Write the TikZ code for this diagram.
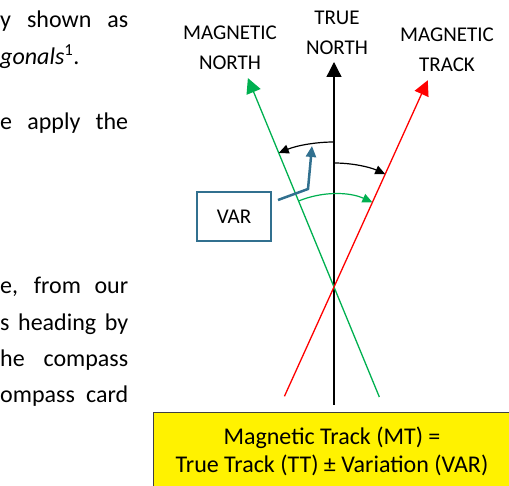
\documentclass[tikz,border=0pt]{standalone}
\usepackage{fontspec}
\setmainfont{Carlito}
\usepackage{xcolor}
\usetikzlibrary{calc,positioning,arrows.meta}
\definecolor{mngreen}{HTML}{00B050}
\definecolor{varblue}{HTML}{31708F}

\begin{document}
\begin{tikzpicture}[
        x=1pt, y=1pt,
        >={Triangle[length=15pt,width=15pt]}, % big arrowheads
        dirlabel/.style={align=center, anchor=north, inner sep=0pt, font=\fontsize{21}{30}\selectfont},
        bodytext/.style={inner sep=0pt, anchor=mid west, font=\fontsize{24}{29}\selectfont},
        swing/.style={-{Triangle[length=10pt,width=9pt]}, line width=1.2pt},
    ]
        \useasboundingbox (0,0) rectangle (509,-486);
        \clip (0,0) rectangle (509,-486);

        % Text of the page
        \node[bodytext] (lineA) at (0,-25) {\makebox[128pt][s]{y shown as}};
        \node[bodytext] (lineB) at (0,-62) {\textit{gonals}\textsuperscript{1}.};
        \node[bodytext] (lineC) at (0,-127) {\makebox[128pt][s]{e apply the}};
        \node[bodytext] (lineD) at (0,-291) {\makebox[128pt][s]{e, from our}};
        \node[bodytext] (lineE) at (0,-328) {\makebox[128pt][s]{s heading by}};
        \node[bodytext] (lineF) at (0,-364) {\makebox[128pt][s]{he compass}};
        \node[bodytext] (lineG) at (0,-400) {\makebox[128pt][s]{ompass card}};

        % Labels
        \node[dirlabel] (mn) at (230,-26) {MAGNETIC\\NORTH};
        \node[dirlabel] (tn) at (337,-11) {TRUE\\NORTH};
        \node[dirlabel] (mt) at (447,-28) {MAGNETIC\\TRACK};

        % Where the lines cross
        \coordinate (cross) at (334,-287);
        \coordinate (tnTip) at (334,-62);
        \coordinate (tnFoot) at (334,-405);
        \coordinate (mnTip) at ($(cross)+(112.4:226)$);
        \coordinate (mnFoot) at ($(cross)+(-67.6:119)$);
        \coordinate (mtTip) at ($(cross)+(65.6:227)$);
        \coordinate (mtFoot) at ($(cross)+(245.6:120)$);

        % Lines
        \draw[->, line width=1.3pt] (tnFoot) -- (tnTip);
        \draw[->, mngreen, line width=1.3pt] (mnFoot) -- (mnTip);
        \draw[->, red, line width=1.3pt] (mtFoot) -- (mtTip);

        % Angles
        \draw[swing] ($(cross)+(90:145)$) arc[start angle=90, end angle=112.4, radius=145];
        \draw[swing] ($(cross)+(90:124)$) arc[start angle=90, end angle=65.6, radius=124];
        \draw[swing, mngreen] ($(cross)+(112.4:93)$) arc[start angle=112.4, end angle=65.6, radius=93];

        % Variation box
        \node[draw=varblue, line width=2pt, minimum width=74pt, minimum height=49pt,
            font=\fontsize{21}{25}\selectfont] (var) at (234,-216.5) {VAR};
        \coordinate (varFoot) at ($(var.north east)+(6,-9)$);
        \coordinate (varBend) at (308,-189);
        \coordinate (varTip) at (312,-146);
        \draw[varblue, line width=2.5pt, -{Triangle[length=11pt,width=10pt]}]
            (varFoot) -- (varBend) -- (varTip);

        % Formula
        \node[fill=yellow, draw=black!75, line width=0.8pt, minimum width=358pt,
            minimum height=78pt, align=center, font=\fontsize{24}{28}\selectfont]
            (formula) at (332,-451) {Magnetic Track (MT) =\\True Track (TT) ± Variation (VAR)};

\end{tikzpicture}
\end{document}
